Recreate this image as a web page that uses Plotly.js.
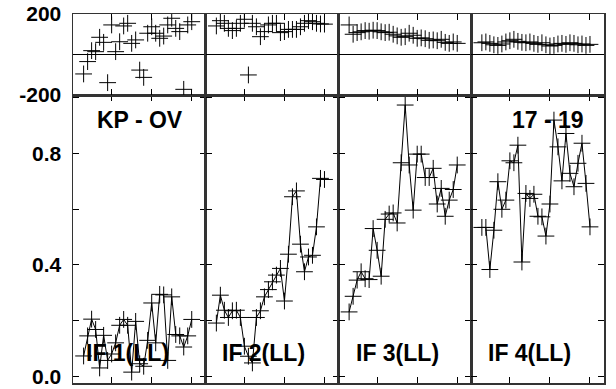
<!DOCTYPE html>
<html>
<head>
<meta charset="utf-8">
<script src="https://cdn.plot.ly/plotly-3.0.1.min.js"></script>
<style>html,body{margin:0;padding:0;background:#fff;}#chart{width:616px;height:389px;}</style>
</head>
<body>
<div id="chart"></div>
<script>
// Sample index (common to all panels)
const sampleIdx = [3,4,5,6,7,8,9,10,11,12,13,14,15,16,17,18,19,20,21,22,23,24,25,26,27,28,29,30];

// Panel titles
const panelLabels = ["IF 1(LL)", "IF 2(LL)", "IF 3(LL)", "IF 4(LL)"];
const titleLeft = "KP - OV";
const titleRight = "17 - 19";

// Upper strip values (range -200..200)
const top1 = [-96,-35,19,14,85,60,-139,146,14,63,141,154,55,72,-77,-113,105,137,105,80,91,146,179,129,113,-172,146,162];
const top2 = [141,167,154,129,118,129,154,174,-101,154,137,88,113,146,154,154,108,113,124,124,124,137,154,167,162,154,151,150];
const top3 = [146,100,108,112,118,115,120,118,112,108,110,100,92,85,88,105,95,80,82,78,70,72,68,75,60,55,62,55];
const top4 = [58,62,55,48,45,52,62,68,75,65,60,58,62,55,50,58,48,42,45,52,55,50,58,55,48,52,45,50];

// Lower panel values
const low1 = [0.073,0.145,0.205,0.168,0.030,0.147,0.057,0.080,0.120,0.183,0.204,0.183,0.015,0.197,0.045,0.036,0.129,0.263,0.120,0.294,0.292,0.057,0.285,0.150,0.145,0.105,0.145,0.204];
const low2 = [0.191,0.291,0.237,0.211,0.235,0.237,0.211,0.108,0.072,0.048,0.211,0.235,0.285,0.311,0.339,0.363,0.387,0.270,0.438,0.644,0.665,0.474,0.375,0.428,0.434,0.536,0.710,0.706];
const low3 = [0.231,0.287,0.345,0.375,0.350,0.347,0.530,0.452,0.359,0.563,0.582,0.586,0.550,0.766,0.973,0.758,0.596,0.797,0.797,0.713,0.713,0.746,0.618,0.674,0.574,0.632,0.670,0.758];
const low4 = [0.534,0.534,0.383,0.524,0.698,0.599,0.632,0.773,0.766,0.829,0.410,0.656,0.638,0.653,0.574,0.572,0.503,0.618,0.919,0.823,0.701,0.871,0.728,0.680,0.764,0.836,0.692,0.536];

const topTickVals = [-200, 0, 200];
const topTickText = ["-200", "", "200"];
const lowTickVals = [0, 0.2, 0.4, 0.6, 0.8, 1.0];
const lowTickText = ["0.0", "", "0.4", "", "0.8", ""];
const xTickVals = [10, 20, 30];

const tops = [top1, top2, top3, top4];
const lows = [low1, low2, low3, low4];

const FONT = "Liberation Sans, Arial, sans-serif";
const marker = {symbol: "cross-thin", size: 12, color: "#000", line: {width: 1, color: "#000"}};

const traces = [];
for (let i = 0; i < 4; i++) {
  const bx = i === 0 ? "x" : "x" + (i + 1);
  const by = i === 0 ? "y" : "y" + (i + 1);
  traces.push({x: sampleIdx, y: lows[i], xaxis: bx, yaxis: by, mode: "lines+markers",
    line: {color: "#000", width: 1}, marker: marker, showlegend: false, hoverinfo: "skip"});
  traces.push({x: sampleIdx, y: tops[i], xaxis: "x" + (i + 5), yaxis: "y" + (i + 5), mode: "markers",
    marker: marker, showlegend: false, hoverinfo: "skip"});
}

const split = 288 / 369;
const layout = {
  width: 616, height: 389,
  margin: {l: 73, r: 12, t: 14, b: 6},
  paper_bgcolor: "#fff", plot_bgcolor: "#fff",
  font: {family: FONT, size: 21, color: "#000", weight: "bold"},
  showlegend: false,
  annotations: []
};

const axCommon = {showgrid: false, showline: true, linecolor: "#333", linewidth: 1.5,
  mirror: "ticks", ticks: "inside", ticklen: 6, tickwidth: 1, tickcolor: "#000", zeroline: false};

for (let i = 0; i < 4; i++) {
  const dom = [i * 0.25, (i + 1) * 0.25];
  const bxn = i === 0 ? "xaxis" : "xaxis" + (i + 1);
  const byn = i === 0 ? "yaxis" : "yaxis" + (i + 1);
  const byRef = i === 0 ? "y" : "y" + (i + 1);
  const bxRef = i === 0 ? "x" : "x" + (i + 1);
  layout[bxn] = Object.assign({}, axCommon, {domain: dom, anchor: byRef, range: [0.35, 33.5],
    tickvals: xTickVals, showticklabels: false});
  layout[byn] = Object.assign({}, axCommon, {domain: [0, split], anchor: bxRef, range: [-0.024, 1.009],
    tickvals: lowTickVals, ticktext: lowTickText, showticklabels: i === 0, ticklabelstandoff: 6,
    tickfont: {family: FONT, size: 21, weight: "bold"}});
  layout["xaxis" + (i + 5)] = Object.assign({}, axCommon, {domain: dom, anchor: "y" + (i + 5), range: [0.35, 33.5],
    tickvals: xTickVals, showticklabels: false});
  layout["yaxis" + (i + 5)] = Object.assign({}, axCommon, {domain: [split, 1], anchor: "x" + (i + 5), range: [-200, 200],
    tickvals: topTickVals, ticktext: topTickText, showticklabels: i === 0, ticklabelstandoff: 6,
    zeroline: true, zerolinecolor: "#000", zerolinewidth: 1,
    tickfont: {family: FONT, size: 21, weight: "bold"}});
}

const annFont = {family: FONT, size: 23, color: "#000", weight: "bold"};
const labelX = [0.0213, 0.2768, 0.5292, 0.7772];
for (let i = 0; i < 4; i++) {
  layout.annotations.push({text: panelLabels[i], xref: "paper", yref: "paper", x: labelX[i], y: 0.0813,
    xanchor: "left", yanchor: "middle", showarrow: false, font: annFont});
}
layout.annotations.push({text: titleLeft, xref: "paper", yref: "paper", x: 0.126, y: 0.713,
  xanchor: "center", yanchor: "middle", showarrow: false, font: annFont});
layout.annotations.push({text: titleRight, xref: "paper", yref: "paper", x: 0.8936, y: 0.713,
  xanchor: "center", yanchor: "middle", showarrow: false, font: annFont});

Plotly.newPlot("chart", traces, layout, {staticPlot: true, displayModeBar: false});
</script>
</body>
</html>
